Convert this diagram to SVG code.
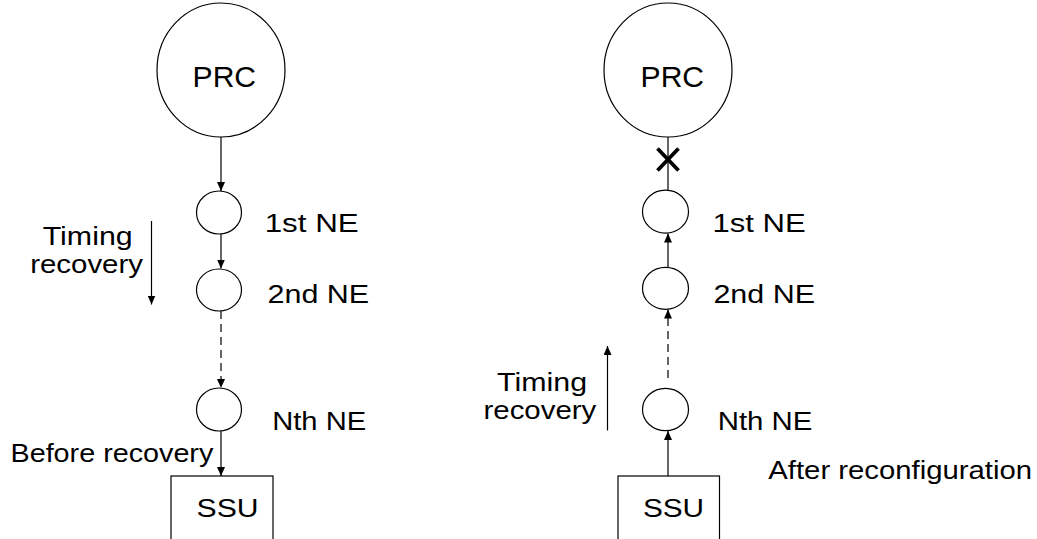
<svg xmlns="http://www.w3.org/2000/svg" width="1037" height="539" viewBox="0 0 1037 539">
<style>
.shape{fill:#fff;stroke:#000;stroke-width:1.2}
.ln{fill:none;stroke:#000;stroke-width:1.2}
.dash{stroke-dasharray:8 5}
.t{font-family:"Liberation Sans",Arial,Helvetica,sans-serif;font-size:26px;fill:#000}
.big{font-size:29px}
</style>
<defs>
<marker id="ah" viewBox="0 0 9 8" markerWidth="9" markerHeight="8" refX="9" refY="4" orient="auto" markerUnits="userSpaceOnUse">
<path d="M0,0 L9,4 L0,8 z" fill="#000"/>
</marker>
</defs>
<rect width="1037" height="539" fill="#fff"/>
<g id="connectors">
<line class="ln" x1="221" y1="137" x2="221" y2="191" marker-end="url(#ah)"/>
<line class="ln" x1="221" y1="234" x2="221" y2="268.5" marker-end="url(#ah)"/>
<line class="ln dash" x1="221" y1="311" x2="221" y2="388" marker-end="url(#ah)"/>
<line class="ln" x1="221" y1="431" x2="221" y2="476" marker-end="url(#ah)"/>
<line class="ln" x1="151.5" y1="221" x2="151.5" y2="304.5" marker-end="url(#ah)"/>
<line class="ln" x1="668" y1="137" x2="668" y2="190"/>
<line class="ln" x1="668" y1="267" x2="668" y2="233.5" marker-end="url(#ah)"/>
<line class="ln dash" x1="668" y1="378" x2="668" y2="309.5" marker-end="url(#ah)"/>
<line class="ln" x1="668" y1="476" x2="668" y2="431" marker-end="url(#ah)"/>
<line class="ln" x1="607.5" y1="430.5" x2="607.5" y2="346" marker-end="url(#ah)"/>
<g id="break-mark" stroke="#000" stroke-width="3.8" stroke-linecap="butt">
<line x1="657.5" y1="148.5" x2="678.5" y2="170.5"/>
<line x1="678.5" y1="148.5" x2="657.5" y2="170.5"/>
</g>
</g>
<g id="prc-left">
<ellipse class="shape" cx="221" cy="70" rx="64" ry="67"/>
<text class="t big" x="192.6" y="87.3" textLength="63.5" lengthAdjust="spacingAndGlyphs">PRC</text>
</g>
<g id="ne1-left">
<ellipse class="shape" cx="219" cy="212.5" rx="22.5" ry="21.5"/>
<text class="t" x="264.7" y="231.7" textLength="94" lengthAdjust="spacingAndGlyphs">1st NE</text>
</g>
<g id="ne2-left">
<ellipse class="shape" cx="219" cy="290" rx="22.5" ry="21"/>
<text class="t" x="267.6" y="302.5" textLength="101.6" lengthAdjust="spacingAndGlyphs">2nd NE</text>
</g>
<g id="nen-left">
<ellipse class="shape" cx="219" cy="409.5" rx="22.5" ry="21.5"/>
<text class="t" x="272.2" y="430" textLength="94" lengthAdjust="spacingAndGlyphs">Nth NE</text>
</g>
<g id="ssu-left">
<rect class="shape" x="171" y="476" width="102" height="80"/>
<text class="t" x="196.6" y="517.3" textLength="62" lengthAdjust="spacingAndGlyphs">SSU</text>
</g>
<g id="label-timing-left">
<text class="t" x="42.7" y="245" textLength="90" lengthAdjust="spacingAndGlyphs">Timing</text>
<text class="t" x="30.2" y="273.3" textLength="112.8" lengthAdjust="spacingAndGlyphs">recovery</text>
</g>
<g id="label-before">
<text class="t" x="10.5" y="461.7" textLength="202.8" lengthAdjust="spacingAndGlyphs">Before recovery</text>
</g>
<g id="prc-right">
<ellipse class="shape" cx="668" cy="70" rx="64" ry="67"/>
<text class="t big" x="640.6" y="87.3" textLength="63.5" lengthAdjust="spacingAndGlyphs">PRC</text>
</g>
<g id="ne1-right">
<ellipse class="shape" cx="665.5" cy="211.7" rx="23" ry="21.5"/>
<text class="t" x="712.4" y="231.7" textLength="93.3" lengthAdjust="spacingAndGlyphs">1st NE</text>
</g>
<g id="ne2-right">
<ellipse class="shape" cx="665.5" cy="288.3" rx="23" ry="21"/>
<text class="t" x="713.4" y="302.7" textLength="101.6" lengthAdjust="spacingAndGlyphs">2nd NE</text>
</g>
<g id="nen-right">
<ellipse class="shape" cx="665.5" cy="409.5" rx="23" ry="21.2"/>
<text class="t" x="717.7" y="430" textLength="94.7" lengthAdjust="spacingAndGlyphs">Nth NE</text>
</g>
<g id="ssu-right">
<rect class="shape" x="618" y="476" width="101.5" height="80"/>
<text class="t" x="642.9" y="517.3" textLength="61.2" lengthAdjust="spacingAndGlyphs">SSU</text>
</g>
<g id="label-timing-right">
<text class="t" x="497.1" y="391" textLength="90" lengthAdjust="spacingAndGlyphs">Timing</text>
<text class="t" x="483.5" y="419.3" textLength="112.8" lengthAdjust="spacingAndGlyphs">recovery</text>
</g>
<g id="label-after">
<text class="t" x="768.3" y="479.3" textLength="263.8" lengthAdjust="spacingAndGlyphs">After reconfiguration</text>
</g>
</svg>
